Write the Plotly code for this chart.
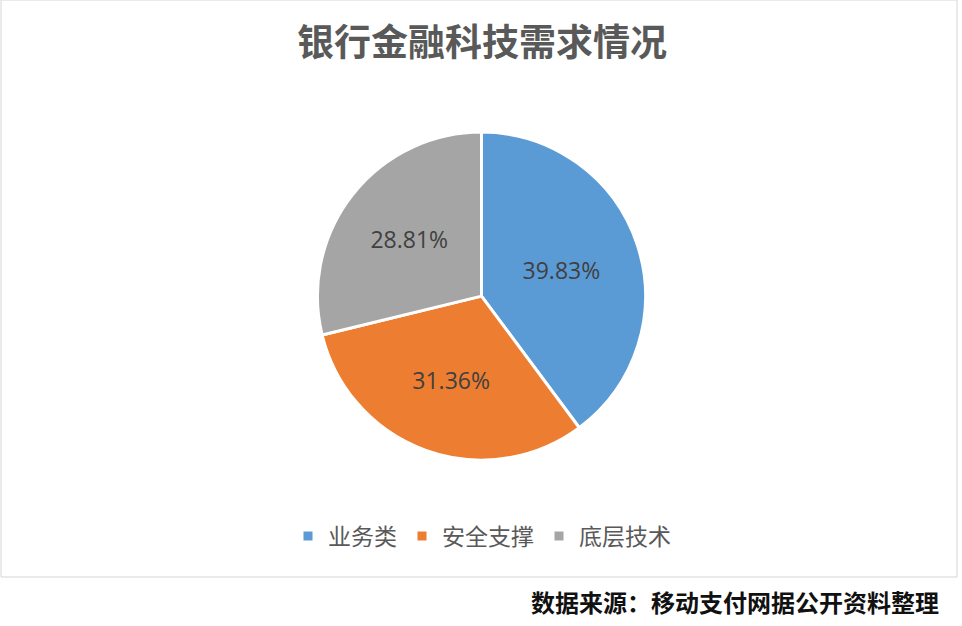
import plotly.graph_objects as go

labels = ['业务类', '安全支撑', '底层技术']
values = [39.83, 31.36, 28.81]
colors = ['#5B9BD5', '#ED7D31', '#A5A5A5']

W, H = 962, 626

fig = go.Figure()
fig.add_trace(go.Pie(
    labels=labels,
    values=values,
    sort=False,
    direction='clockwise',
    rotation=0,
    marker=dict(colors=colors, line=dict(color='white', width=3)),
    texttemplate='%{value:.2f}%',
    textposition='inside',
    insidetextorientation='horizontal',
    textfont=dict(family='Open Sans', size=23, color='#404040'),
    hoverinfo='label+percent',
    domain=dict(x=[0.330, 0.671], y=[0.263, 0.791]),
))

fig.update_layout(
    width=W, height=H,
    margin=dict(l=0, r=0, t=0, b=0),
    paper_bgcolor='white',
    plot_bgcolor='white',
    title=dict(
        text='<b>银行金融科技需求情况</b>',
        x=482 / W, xanchor='center', y=1 - 43 / H, yanchor='middle',
        font=dict(family='Noto Sans CJK SC', size=37, color='#595959'),
    ),
    legend=dict(
        orientation='h',
        x=482 / W, xanchor='center', y=1 - 536 / H, yanchor='middle',
        font=dict(family='Noto Sans CJK SC', size=23, color='#595959'),
        itemwidth=30,
    ),
    shapes=[dict(type='rect', xref='paper', yref='paper',
                 x0=1 / W, x1=957 / W, y0=1 - 577 / H, y1=1,
                 line=dict(color='#D6D6D6', width=1))],
    annotations=[dict(
        text='<b>数据来源：移动支付网据公开资料整理</b>',
        xref='paper', yref='paper', x=941 / W, y=1 - 601 / H,
        xanchor='right', yanchor='middle', showarrow=False,
        font=dict(family='Noto Sans CJK SC', size=24, color='#111111'),
    )],
)

fig.write_html('out.html', config={'displayModeBar': False},
               post_script="document.body.style.margin='0';")
